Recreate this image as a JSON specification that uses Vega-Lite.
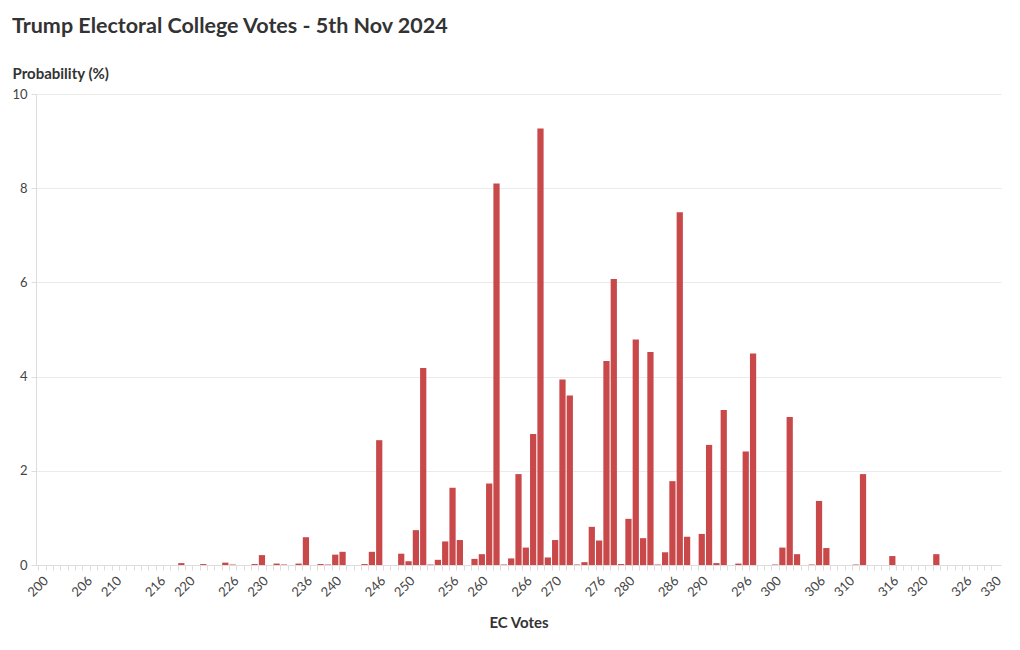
{
  "$schema": "https://vega.github.io/schema/vega-lite/v6.json",
  "width": 965,
  "height": 471,
  "autosize": {"type": "none"},
  "padding": {"left": 36, "top": 94, "right": 19, "bottom": 85},
  "background": "white",
  "title": {
    "text": "Trump Electoral College Votes - 5th Nov 2024",
    "anchor": "start",
    "frame": "group",
    "dx": -24,
    "fontSize": 21.5,
    "fontWeight": "bold",
    "color": "#333333",
    "font": "Lato",
    "offset": 29
  },
  "config": {
    "view": {"stroke": null},
    "font": "Lato",
    "axis": {
      "labelFont": "Lato",
      "titleFont": "Lato",
      "labelColor": "#444444",
      "titleColor": "#333333",
      "labelFontSize": 13,
      "titleFontSize": 15,
      "titleFontWeight": "bold",
      "domainColor": "#dddddd",
      "tickColor": "#dddddd",
      "gridColor": "#ebebeb"
    }
  },
  "data": {
    "values": [
      {"ev": 219, "p": 0.04},
      {"ev": 222, "p": 0.02},
      {"ev": 225, "p": 0.05},
      {"ev": 226, "p": 0.01},
      {"ev": 229, "p": 0.02},
      {"ev": 230, "p": 0.21},
      {"ev": 232, "p": 0.03},
      {"ev": 233, "p": 0.01},
      {"ev": 235, "p": 0.03},
      {"ev": 236, "p": 0.59},
      {"ev": 238, "p": 0.02},
      {"ev": 239, "p": 0.01},
      {"ev": 240, "p": 0.22},
      {"ev": 241, "p": 0.28},
      {"ev": 244, "p": 0.02},
      {"ev": 245, "p": 0.28},
      {"ev": 246, "p": 2.65},
      {"ev": 249, "p": 0.24},
      {"ev": 250, "p": 0.08},
      {"ev": 251, "p": 0.74},
      {"ev": 252, "p": 4.18},
      {"ev": 253, "p": 0.01},
      {"ev": 254, "p": 0.11},
      {"ev": 255, "p": 0.5},
      {"ev": 256, "p": 1.64},
      {"ev": 257, "p": 0.53},
      {"ev": 259, "p": 0.13},
      {"ev": 260, "p": 0.23},
      {"ev": 261, "p": 1.73},
      {"ev": 262, "p": 8.1},
      {"ev": 263, "p": 0.01},
      {"ev": 264, "p": 0.14},
      {"ev": 265, "p": 1.93},
      {"ev": 266, "p": 0.37},
      {"ev": 267, "p": 2.78},
      {"ev": 268, "p": 9.27},
      {"ev": 269, "p": 0.16},
      {"ev": 270, "p": 0.53},
      {"ev": 271, "p": 3.94},
      {"ev": 272, "p": 3.6},
      {"ev": 273, "p": 0.01},
      {"ev": 274, "p": 0.06},
      {"ev": 275, "p": 0.81},
      {"ev": 276, "p": 0.52},
      {"ev": 277, "p": 4.33},
      {"ev": 278, "p": 6.07},
      {"ev": 279, "p": 0.02},
      {"ev": 280, "p": 0.98},
      {"ev": 281, "p": 4.79},
      {"ev": 282, "p": 0.57},
      {"ev": 283, "p": 4.52},
      {"ev": 284, "p": 0.01},
      {"ev": 285, "p": 0.27},
      {"ev": 286, "p": 1.78},
      {"ev": 287, "p": 7.49},
      {"ev": 288, "p": 0.6},
      {"ev": 290, "p": 0.66},
      {"ev": 291, "p": 2.55},
      {"ev": 292, "p": 0.04},
      {"ev": 293, "p": 3.29},
      {"ev": 295, "p": 0.03},
      {"ev": 296, "p": 2.41},
      {"ev": 297, "p": 4.49},
      {"ev": 300, "p": 0.01},
      {"ev": 301, "p": 0.37},
      {"ev": 302, "p": 3.14},
      {"ev": 303, "p": 0.23},
      {"ev": 305, "p": 0.01},
      {"ev": 306, "p": 1.36},
      {"ev": 307, "p": 0.36},
      {"ev": 311, "p": 0.01},
      {"ev": 312, "p": 1.93},
      {"ev": 316, "p": 0.19},
      {"ev": 322, "p": 0.23}
    ]
  },
  "mark": {"type": "bar", "color": "#c9484a"},
  "encoding": {
    "x": {
      "field": "ev",
      "type": "ordinal",
      "scale": {
        "type": "band",
        "paddingInner": 0.15,
        "paddingOuter": 0.4,
        "domain": [200,201,202,203,204,205,206,207,208,209,210,211,212,213,214,215,216,217,218,219,220,221,222,223,224,225,226,227,228,229,230,231,232,233,234,235,236,237,238,239,240,241,242,243,244,245,246,247,248,249,250,251,252,253,254,255,256,257,258,259,260,261,262,263,264,265,266,267,268,269,270,271,272,273,274,275,276,277,278,279,280,281,282,283,284,285,286,287,288,289,290,291,292,293,294,295,296,297,298,299,300,301,302,303,304,305,306,307,308,309,310,311,312,313,314,315,316,317,318,319,320,321,322,323,324,325,326,327,328,329,330]
      },
      "axis": {
        "title": "EC Votes",
        "bandPosition": 0,
        "labelAngle": -45,
        "labelOverlap": false,
        "labelExpr": "(datum.value % 10 == 0 || datum.value % 10 == 6) ? datum.label : ''",
        "tickSize": 5,
        "labelPadding": 4,
        "titlePadding": 16,
        "grid": false
      }
    },
    "y": {
      "field": "p",
      "type": "quantitative",
      "scale": {"domain": [0, 10], "nice": false},
      "axis": {
        "title": "Probability (%)",
        "values": [0, 2, 4, 6, 8, 10],
        "titleAngle": 0,
        "titleAlign": "left",
        "titleBaseline": "alphabetic",
        "titleX": -24,
        "titleY": -16,
        "tickSize": 5,
        "labelPadding": 4,
        "grid": true
      }
    }
  }
}
